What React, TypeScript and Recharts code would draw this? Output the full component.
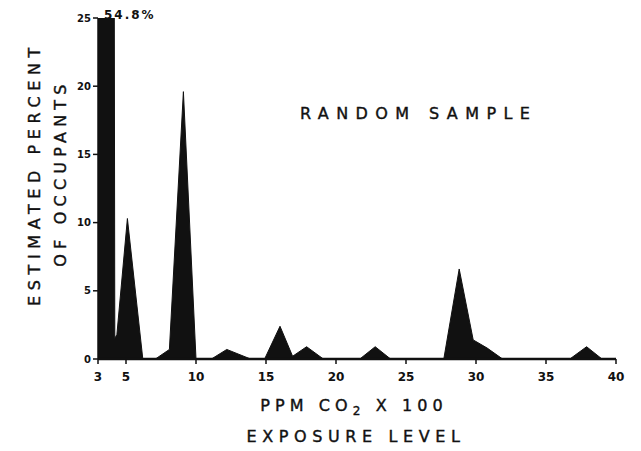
import React from "react";
import { AreaChart, Area, XAxis, YAxis } from "recharts";

const exposureLevels = [3, 4.12, 4.2, 4.35, 5.1, 6.2, 7.1, 8.1, 9.1, 10.0, 11.1, 12.2, 13.9, 14.9, 16.0, 16.9, 17.9, 19.1, 21.7, 22.8, 23.9, 27.7, 28.8, 29.8, 30.8, 31.9, 36.7, 37.9, 39.0, 40];
const percentOccupants = [54.8, 54.8, 1.5, 1.8, 10.3, 0, 0, 0.7, 19.6, 0, 0, 0.7, 0, 0, 2.4, 0.2, 0.9, 0, 0, 0.9, 0, 0, 6.6, 1.4, 0.8, 0, 0, 0.9, 0, 0];
const xTicks = [3, 5, 10, 15, 20, 25, 30, 35, 40];
const yTicks = [0, 5, 10, 15, 20, 25];

const data = exposureLevels.map((x, i) => ({ x, y: percentOccupants[i] }));

const font = "'DejaVu Sans', sans-serif";
const textStyle: React.CSSProperties = {
  position: "absolute",
  fontFamily: font,
  fontSize: 16,
  letterSpacing: 5.6,
  color: "#111",
  whiteSpace: "nowrap",
  lineHeight: 1,
  WebkitTextStroke: "0.4px #111",
};

export default function App() {
  return (
    <div style={{ position: "absolute", left: 0, top: 0, width: 641, height: 451, background: "#fff" }}>
      <AreaChart width={641} height={451} data={data} margin={{ top: 18, right: 25, left: 0, bottom: 0 }}>
        <XAxis
          dataKey="x"
          type="number"
          domain={[3, 40]}
          ticks={xTicks}
          height={92}
          axisLine={{ stroke: "#111", strokeWidth: 2.5 }}
          tickLine={{ stroke: "#111", strokeWidth: 1.5 }}
          tickSize={5}
          tickMargin={8}
          tick={{ fill: "#111", fontSize: 12, fontWeight: "bold", fontFamily: font }}
        />
        <YAxis
          type="number"
          domain={[0, 25]}
          ticks={yTicks}
          allowDataOverflow
          width={98}
          axisLine={{ stroke: "#111", strokeWidth: 1.5 }}
          tickLine={{ stroke: "#111", strokeWidth: 1.5 }}
          tickSize={5}
          tickMargin={2}
          tick={{ fill: "#111", fontSize: 10, fontWeight: "bold", fontFamily: font }}
        />
        <Area
          type="linear"
          dataKey="y"
          stroke="#111"
          strokeWidth={1}
          fill="#111"
          fillOpacity={1}
          isAnimationActive={false}
          dot={false}
          activeDot={false}
        />
      </AreaChart>
      <div style={{ ...textStyle, left: 104, top: 9, fontSize: 12, letterSpacing: 2, fontWeight: "bold", WebkitTextStroke: "0px" }}>54.8%</div>
      <div style={{ ...textStyle, left: 300, top: 106, letterSpacing: 7.4 }}>RANDOM SAMPLE</div>
      <div style={{ ...textStyle, left: 354, top: 407, letterSpacing: 5.1, transform: "translate(-50%, -50%)" }}>
        PPM CO<sub style={{ fontSize: 12, verticalAlign: -4 }}>2</sub> X 100
      </div>
      <div style={{ ...textStyle, left: 356, top: 437, transform: "translate(-50%, -50%)" }}>EXPOSURE LEVEL</div>
      <div style={{ ...textStyle, left: 35, top: 174, transform: "translate(-50%, -50%) rotate(-90deg)" }}>ESTIMATED PERCENT</div>
      <div style={{ ...textStyle, left: 61, top: 173, letterSpacing: 5.2, transform: "translate(-50%, -50%) rotate(-90deg)" }}>OF OCCUPANTS</div>
    </div>
  );
}
